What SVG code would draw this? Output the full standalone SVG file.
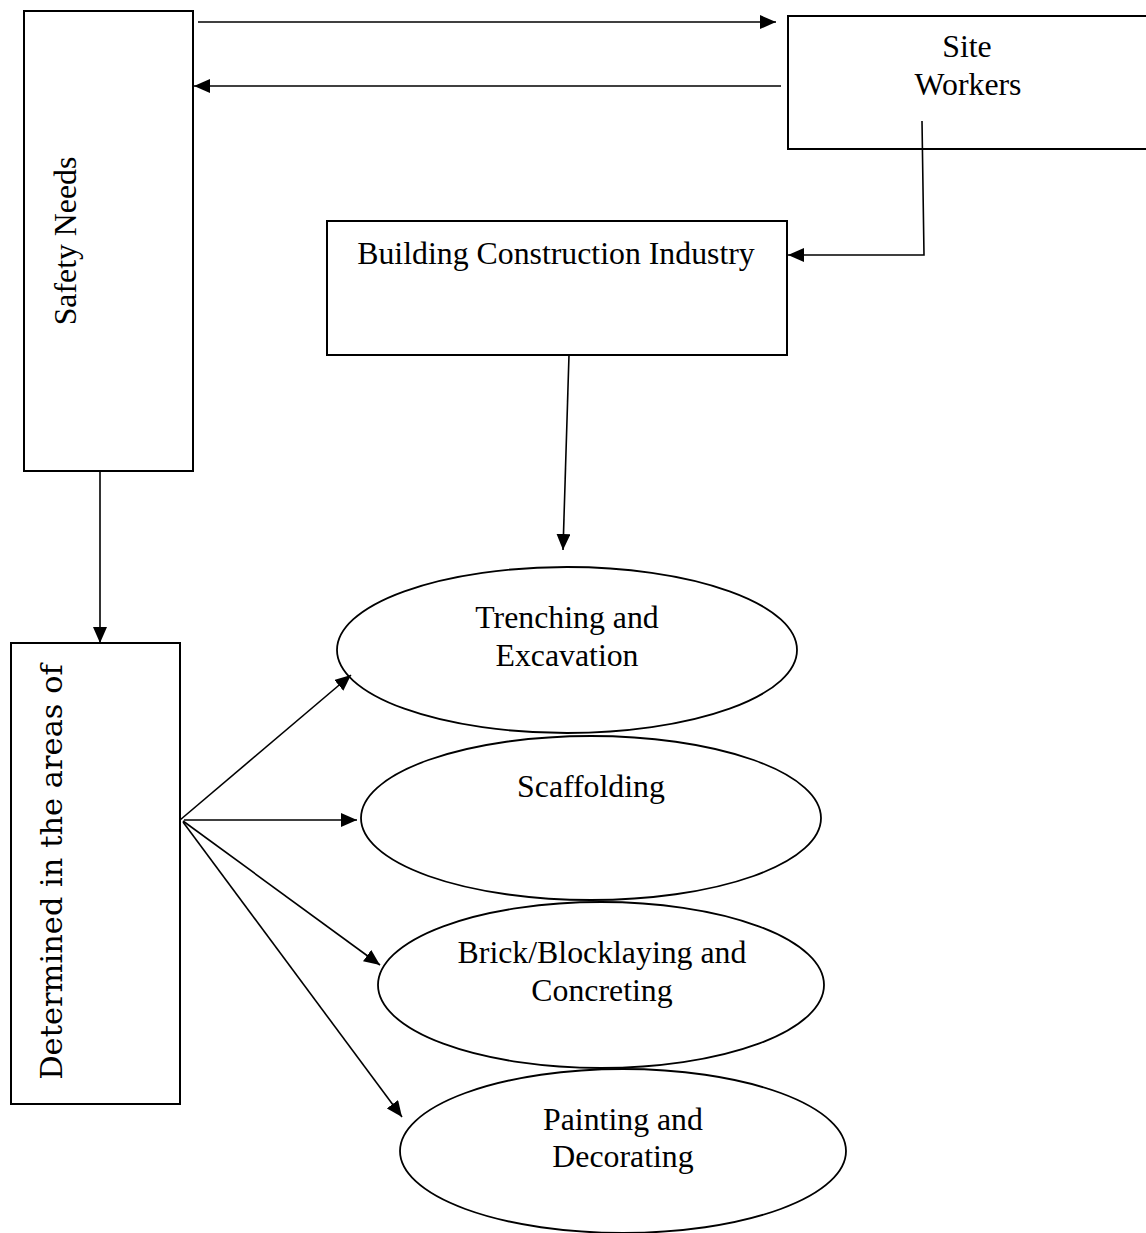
<svg xmlns="http://www.w3.org/2000/svg" width="1146" height="1233" viewBox="0 0 1146 1233">
<style>
.box{fill:#fff;stroke:#000;stroke-width:2}
.ell{fill:none;stroke:#000;stroke-width:1.8}
.ln{fill:none;stroke:#000;stroke-width:1.6}
.t{font-family:"Liberation Serif","Times New Roman",serif;font-size:31.8px;fill:#000;text-anchor:middle}
.d{font-family:"DejaVu Serif",serif;font-size:30.5px;fill:#000;text-anchor:middle}
</style>
<defs>
<marker id="ah" markerUnits="userSpaceOnUse" markerWidth="16" markerHeight="14" viewBox="0 0 16 14" refX="16" refY="7" orient="auto">
<path d="M0,0 L16,7 L0,14 Z" fill="#000"/>
</marker>
</defs>
<rect width="1146" height="1233" fill="#fff"/>
<g id="safety-needs">
<rect class="box" x="24" y="11" width="169" height="460"/>
<text class="t" transform="translate(76,241) rotate(-90)">Safety Needs</text>
</g>
<g id="site-workers">
<rect class="box" x="788" y="16" width="370" height="133"/>
<text class="t" x="967" y="57">Site</text>
<text class="t" x="968" y="95">Workers</text>
</g>
<g id="building-construction-industry">
<rect class="box" x="327" y="221" width="460" height="134"/>
<text class="t" x="556" y="264">Building Construction Industry</text>
</g>
<g id="determined">
<rect class="box" x="11" y="643" width="169" height="461"/>
<text class="d" transform="translate(62,872) rotate(-90)">Determined in the areas of</text>
</g>
<g id="trenching">
<ellipse class="ell" cx="567" cy="650" rx="230" ry="83"/>
<text class="t" x="567" y="628">Trenching and</text>
<text class="t" x="567" y="666">Excavation</text>
</g>
<g id="scaffolding">
<ellipse class="ell" cx="591" cy="818" rx="230" ry="82"/>
<text class="t" x="591" y="797">Scaffolding</text>
</g>
<g id="brick">
<ellipse class="ell" cx="601" cy="985" rx="223" ry="83"/>
<text class="t" x="602" y="963">Brick/Blocklaying and</text>
<text class="t" x="602" y="1001">Concreting</text>
</g>
<g id="painting">
<ellipse class="ell" cx="623" cy="1151" rx="223" ry="82"/>
<text class="t" x="623" y="1130">Painting and</text>
<text class="t" x="623" y="1167">Decorating</text>
</g>
<g id="connectors">
<line class="ln" x1="198" y1="22" x2="776" y2="22" marker-end="url(#ah)"/>
<line class="ln" x1="781" y1="86" x2="194" y2="86" marker-end="url(#ah)"/>
<polyline class="ln" points="922,121 924,255 788,255" marker-end="url(#ah)"/>
<line class="ln" x1="569" y1="355" x2="563" y2="550" marker-end="url(#ah)"/>
<line class="ln" x1="100" y1="471" x2="100" y2="643" marker-end="url(#ah)"/>
<line class="ln" x1="180" y1="820" x2="351" y2="675" marker-end="url(#ah)"/>
<line class="ln" x1="184" y1="820" x2="357" y2="820" marker-end="url(#ah)"/>
<line class="ln" x1="183" y1="821" x2="380" y2="965" marker-end="url(#ah)"/>
<line class="ln" x1="183" y1="822" x2="402" y2="1117" marker-end="url(#ah)"/>
</g>
</svg>
